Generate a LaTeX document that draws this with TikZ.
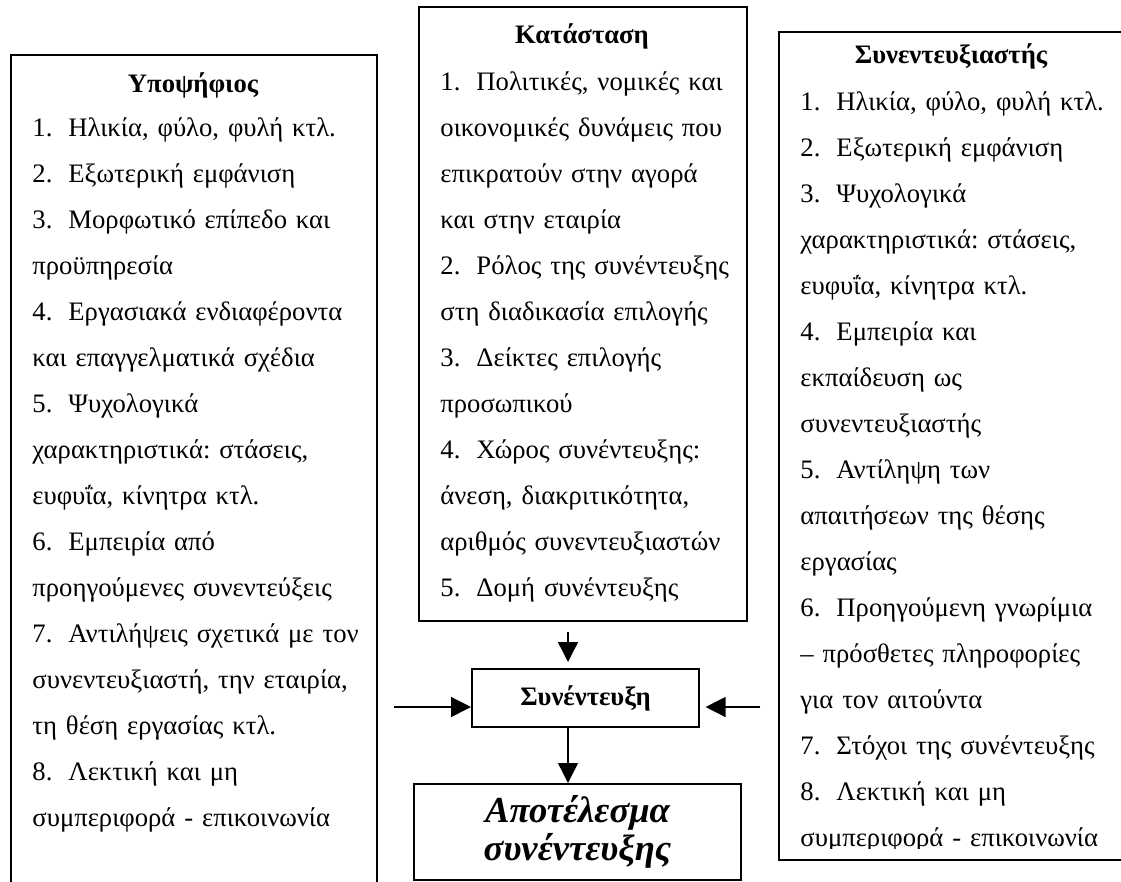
\documentclass[tikz,border=0pt]{standalone}
\usepackage{fontspec}
\setmainfont{Liberation Serif}
\usetikzlibrary{arrows.meta}
\frenchspacing
\newcommand\itm[1]{\makebox[16.2pt][l]{#1}}
\newcommand\firstln{\rule{0pt}{11pt}}
\tikzset{
  boxst/.style={draw=black, line width=0.9pt, inner sep=0pt, anchor=north west},
  listtxt/.style={anchor=north west, inner sep=0pt, text width=170pt, align=left,
    font=\fontsize{12pt}{20.7pt}\selectfont\frenchspacing},
  titletxt/.style={anchor=base, inner sep=0pt, font=\fontsize{12pt}{14pt}\selectfont\bfseries},
  arr/.style={line width=0.6pt, -{Triangle[length=9pt,width=9pt]}}
}
\begin{document}
\begin{tikzpicture}[x=0.45pt,y=-0.45pt]
\useasboundingbox (0,0) rectangle (1121,881);
\clip (0,0) rectangle (1121,881);
% boxes
\node[boxst, minimum width=164.7pt, minimum height=380.7pt] (cand) at (10,54) {};
\node[boxst, minimum width=147.6pt, minimum height=276.3pt] (kat) at (418,6) {};
\node[boxst, minimum width=155.7pt, minimum height=372.6pt] (intv) at (778,31) {};
\node[boxst, minimum width=102.15pt, minimum height=26.1pt, font=\fontsize{12pt}{14pt}\selectfont\bfseries] (syn) at (471,668) {Συνέντευξη};
\node[boxst, minimum width=147.15pt, minimum height=43.2pt, align=center,
  font=\fontsize{16.5pt}{17.1pt}\selectfont\bfseries\itshape] (res) at (413,783) {Αποτέλεσμα\\συνέντευξης};
% titles
\node[titletxt] (candt) at (193,92) {Υποψήφιος};
\node[titletxt] (katt) at (582,43) {Κατάσταση};
\node[titletxt] (intvt) at (951,63) {Συνεντευξιαστής};
% lists
\node[listtxt] (candl) at (32,111.556) {\firstln\itm{1.}Ηλικία, φύλο, φυλή κτλ.\\
\itm{2.}Εξωτερική εμφάνιση\\
\itm{3.}Μορφωτικό επίπεδο και\\
προϋπηρεσία\\
\itm{4.}Εργασιακά ενδιαφέροντα\\
και επαγγελματικά σχέδια\\
\itm{5.}Ψυχολογικά\\
χαρακτηριστικά: στάσεις,\\
ευφυΐα, κίνητρα κτλ.\\
\itm{6.}Εμπειρία από\\
προηγούμενες συνεντεύξεις\\
\itm{7.}Αντιλήψεις σχετικά με τον\\
συνεντευξιαστή, την εταιρία,\\
τη θέση εργασίας κτλ.\\
\itm{8.}Λεκτική και μη\\
συμπεριφορά - επικοινωνία};
\node[listtxt] (katl) at (440,65.556) {\firstln\itm{1.}Πολιτικές, νομικές και\\
οικονομικές δυνάμεις που\\
επικρατούν στην αγορά\\
και στην εταιρία\\
\itm{2.}Ρόλος της συνέντευξης\\
στη διαδικασία επιλογής\\
\itm{3.}Δείκτες επιλογής\\
προσωπικού\\
\itm{4.}Χώρος συνέντευξης:\\
άνεση, διακριτικότητα,\\
αριθμός συνεντευξιαστών\\
\itm{5.}Δομή συνέντευξης};
\begin{scope}
\clip (778,31) rectangle (1124,848);
\node[listtxt] (intvl) at (800,85.556) {\firstln\itm{1.}Ηλικία, φύλο, φυλή κτλ.\\
\itm{2.}Εξωτερική εμφάνιση\\
\itm{3.}Ψυχολογικά\\
χαρακτηριστικά: στάσεις,\\
ευφυΐα, κίνητρα κτλ.\\
\itm{4.}Εμπειρία και\\
εκπαίδευση ως\\
συνεντευξιαστής\\
\itm{5.}Αντίληψη των\\
απαιτήσεων της θέσης\\
εργασίας\\
\itm{6.}Προηγούμενη γνωρίμια\\
– πρόσθετες πληροφορίες\\
για τον αιτούντα\\
\itm{7.}Στόχοι της συνέντευξης\\
\itm{8.}Λεκτική και μη\\
συμπεριφορά - επικοινωνία};
\end{scope}
% arrows
\coordinate (ax) at (568,0);
\coordinate (lin) at (394,707);
\coordinate (rin) at (760,707);
\draw[arr, shorten <=4.5pt, shorten >=2.7pt] (kat.south -| ax) -- (syn.north -| ax);
\draw[arr] (syn.south -| ax) -- (res.north -| ax);
\draw[arr] (lin) -- (lin -| syn.west);
\draw[arr, shorten >=2.5pt] (rin) -- (rin -| syn.east);
\end{tikzpicture}
\end{document}
